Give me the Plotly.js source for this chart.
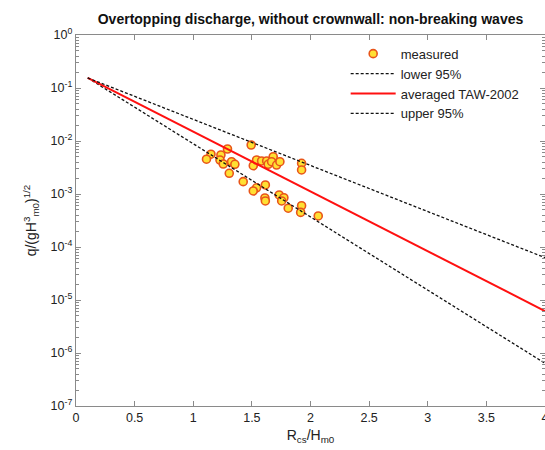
<!DOCTYPE html>
<html>
<head>
<meta charset="utf-8">
<script src="https://cdn.plot.ly/plotly-3.0.1.min.js"></script>
<style>html,body{margin:0;padding:0;background:#fff;}#chart{width:545px;height:450px;}</style>
</head>
<body>
<div id="chart"></div>
<script>
// measured points (Rcs/Hm0, dimensionless discharge)
const measuredX = [1.494,1.292,1.151,1.113,1.236,1.228,1.256,1.327,1.355,1.307,
  1.512,1.540,1.583,1.626,1.639,1.682,1.668,1.711,1.739,1.924,1.924,
  1.426,1.540,1.615,1.512,1.611,1.615,1.733,1.773,1.754,1.810,1.924,1.916,2.066];
const measuredY = [8.4e-3,7.06e-3,5.64e-3,4.54e-3,5.44e-3,4.38e-3,3.68e-3,4.07e-3,3.63e-3,2.46e-3,
  3.42e-3,4.38e-3,4.2e-3,4.2e-3,3.63e-3,5.06e-3,4.07e-3,3.52e-3,4.07e-3,3.8e-3,2.84e-3,
  1.71e-3,1.31e-3,1.48e-3,1.14e-3,8.4e-4,7.4e-4,9.6e-4,8.5e-4,7.4e-4,5.4e-4,6.0e-4,4.5e-4,3.85e-4];

// line endpoints (straight lines on the log scale)
const lineX = [0.1, 4];
const lowerY = [0.155, 6.4e-7];
const averagedY = [0.155, 6.2e-6];
const upperY = [0.155, 6.3e-5];

// tick labels
const xTickVals = [0,0.5,1,1.5,2,2.5,3,3.5,4];
const xTickText = ['0','0.5','1','1.5','2','2.5','3','3.5','4'];
const yTickVals = [1e-7,1e-6,1e-5,1e-4,1e-3,1e-2,1e-1,1];
const yTickText = ['10<sup>-7</sup>','10<sup>-6</sup>','10<sup>-5</sup>','10<sup>-4</sup>',
  '10<sup>-3</sup>','10<sup>-2</sup>','10<sup>-1</sup>','10<sup>0</sup>'];

const FONT = 'Liberation Sans, Arial, Helvetica, sans-serif';
const AX = '#8a8a8a';

const traces = [
  {x: measuredX, y: measuredY, mode: 'markers', type: 'scatter', name: 'measured',
   marker: {size: 8, color: '#ffe033', line: {color: '#e8551a', width: 1.6}}},
  {x: lineX, y: lowerY, mode: 'lines', type: 'scatter', name: 'lower 95%',
   line: {color: '#111', width: 1.3, dash: '3px,2px'}},
  {x: lineX, y: averagedY, mode: 'lines', type: 'scatter', name: 'averaged TAW-2002',
   line: {color: '#ff1010', width: 2}},
  {x: lineX, y: upperY, mode: 'lines', type: 'scatter', name: 'upper 95%',
   line: {color: '#111', width: 1.3, dash: '3px,2px'}}
];

const layout = {
  width: 545, height: 450,
  margin: {l: 76, r: 0, t: 35, b: 44},
  paper_bgcolor: '#fff', plot_bgcolor: '#fff',
  font: {family: FONT, size: 12, color: '#222'},
  title: {text: 'Overtopping discharge, without crownwall: non-breaking waves',
    font: {family: FONT, size: 14, color: '#111', weight: 'bold'},
    xref: 'paper', x: 0.5, xanchor: 'center', yref: 'container', y: 0.957, yanchor: 'middle'},
  showlegend: true,
  legend: {x: 0.575, y: 0.99, xanchor: 'left', yanchor: 'top', bgcolor: 'rgba(0,0,0,0)',
    borderwidth: 0, font: {family: FONT, size: 13, color: '#222'}, itemwidth: 45, tracegroupgap: 0},
  xaxis: {range: [0, 4], tickmode: 'array', tickvals: xTickVals, ticktext: xTickText,
    ticks: 'inside', ticklen: 5, tickcolor: AX, showline: true, linecolor: AX, linewidth: 1.2,
    mirror: 'ticks', showgrid: false, zeroline: false, tickfont: {size: 12.5, color: '#222'},
    ticklabeloverflow: 'allow',
    title: {text: 'R<sub>cs</sub>/H<sub>m0</sub>', font: {size: 14, color: '#222'}, standoff: 6}},
  yaxis: {type: 'log', range: [-7, 0], tickmode: 'array', tickvals: yTickVals, ticktext: yTickText,
    ticks: 'inside', ticklen: 5, tickcolor: AX, showline: true, linecolor: AX, linewidth: 1.2,
    mirror: 'ticks', showgrid: false, zeroline: false, tickfont: {size: 12.5, color: '#222'},
    minor: {ticks: 'inside', ticklen: 3, tickcolor: AX, dtick: 'D1', showgrid: false},
    title: {text: 'q/(gH<sup>3</sup><sub>m0</sub>)<sup>1/2</sup>', font: {size: 14, color: '#222'}, standoff: 10}}
};

Plotly.newPlot('chart', traces, layout, {displayModeBar: false, staticPlot: true});
</script>
</body>
</html>
